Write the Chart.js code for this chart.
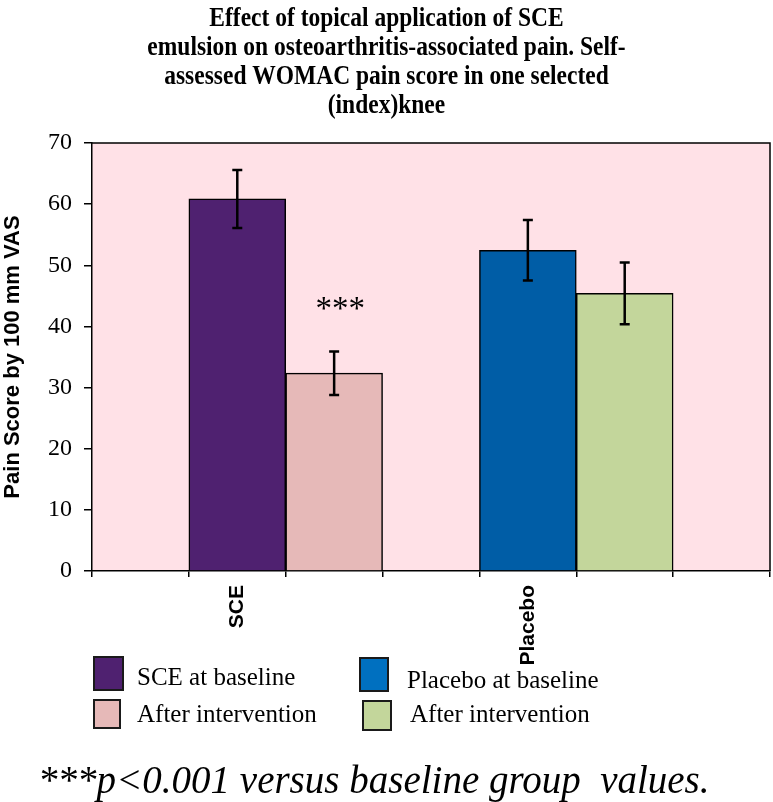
<!DOCTYPE html>
<html>
<head>
<meta charset="utf-8">
<title>WOMAC pain score</title>
<script src="https://cdn.jsdelivr.net/npm/chart.js@4.4.1/dist/chart.umd.min.js"></script>
<style>
    html, body { margin: 0; padding: 0; background: #fff; }
    #wrap { position: relative; width: 773px; height: 802px; overflow: hidden; }
    #painChart { position: absolute; left: 0; top: 0; }
    .legend-item { position: absolute; font-family: "Liberation Serif", "Times New Roman", serif; font-size: 25px; line-height: 25px; color: #000; white-space: nowrap; }
    .legend-box { position: absolute; box-sizing: border-box; border: 2px solid #1a1a1a; }
    #footnote { position: absolute; left: 38px; top: 760px; font-family: "Liberation Serif", "Times New Roman", serif; font-style: italic; font-size: 39px; line-height: 39px; white-space: pre; color: #000; }
</style>
</head>
<body>
<div id="wrap">
    <canvas id="painChart" width="773" height="802"></canvas>
    <div id="legend"></div>
    <div id="footnote"></div>
</div>
<script>
// Chart data
const slotLabels = ['', 'SCE', '', '', 'Placebo', '', ''];
const seriesNames = ['SCE at baseline', 'After intervention', 'Placebo at baseline', 'After intervention'];
const barSlots = [1, 2, 4, 5];
const meanScores = [60.85, 32.35, 52.45, 45.4];
const errorValues = [4.75, 3.55, 4.95, 5.05];
const barColors = ['#4F2170', '#E6B9B8', '#005DA6', '#C3D69B'];
const legendColors = ['#4F2170', '#E6B9B8', '#0070C0', '#C3D69B'];
const yTicks = [0, 10, 20, 30, 40, 50, 60, 70];
const titleLines = [
    'Effect of topical application of SCE',
    'emulsion on osteoarthritis-associated pain. Self-',
    'assessed WOMAC pain score in one selected',
    '(index)knee'
];
const sigMark = '***';
const sigSlot = 2;
const sigLevel = 43.7;
const footnoteText = '***p<0.001 versus baseline group  values.';

// Spread the four bars over the seven slots
const slotValues = slotLabels.map(() => null);
const slotColors = slotLabels.map(() => 'rgba(0,0,0,0)');
barSlots.forEach((slot, i) => {
    slotValues[slot] = meanScores[i];
    slotColors[slot] = barColors[i];
});

const plotBackground = {
    id: 'plotBackground',
    beforeDraw(chart) {
        const { ctx, chartArea } = chart;
        ctx.save();
        ctx.fillStyle = '#FFE1E7';
        ctx.fillRect(chartArea.left, chartArea.top, chartArea.right - chartArea.left, chartArea.bottom - chartArea.top);
        ctx.restore();
    }
};

const errorBars = {
    id: 'errorBars',
    afterDatasetsDraw(chart) {
        const { ctx, chartArea } = chart;
        const yScale = chart.scales.y;
        const xScale = chart.scales.x;
        ctx.save();

        // top and right frame of the plot
        ctx.strokeStyle = '#000';
        ctx.lineWidth = 1.5;
        ctx.beginPath();
        ctx.moveTo(chartArea.left, chartArea.top);
        ctx.lineTo(chartArea.right, chartArea.top);
        ctx.lineTo(chartArea.right, chartArea.bottom);
        ctx.stroke();

        ctx.lineWidth = 2.5;
        barSlots.forEach((slot, i) => {
            const x = xScale.getPixelForValue(slot);
            const yHi = yScale.getPixelForValue(meanScores[i] + errorValues[i]);
            const yLo = yScale.getPixelForValue(meanScores[i] - errorValues[i]);
            ctx.beginPath();
            ctx.moveTo(x, yHi);
            ctx.lineTo(x, yLo);
            ctx.moveTo(x - 5, yHi);
            ctx.lineTo(x + 5, yHi);
            ctx.moveTo(x - 5, yLo);
            ctx.lineTo(x + 5, yLo);
            ctx.stroke();
        });

        // significance mark
        ctx.fillStyle = '#000';
        ctx.font = '33px "Liberation Serif", "Times New Roman", serif';
        ctx.textAlign = 'center';
        ctx.textBaseline = 'alphabetic';
        ctx.fillText(sigMark, xScale.getPixelForValue(sigSlot) + 6, yScale.getPixelForValue(sigLevel) + 15);
        ctx.restore();
    }
};

const condensedTitle = {
    id: 'condensedTitle',
    afterDraw(chart) {
        const ctx = chart.ctx;
        ctx.save();
        ctx.fillStyle = '#000';
        ctx.font = 'bold 27px "Liberation Serif", "Times New Roman", serif';
        ctx.textAlign = 'center';
        ctx.textBaseline = 'alphabetic';
        titleLines.forEach((line, i) => {
            ctx.save();
            ctx.translate(chart.width / 2, 26 + i * 29);
            ctx.scale(0.87, 1);
            ctx.fillText(line, 0, 0);
            ctx.restore();
        });
        ctx.restore();
    }
};

new Chart(document.getElementById('painChart'), {
    type: 'bar',
    data: {
        labels: slotLabels,
        datasets: [{
            data: slotValues,
            backgroundColor: slotColors,
            borderColor: '#000',
            borderWidth: 1.5,
            barPercentage: 1,
            categoryPercentage: 1
        }]
    },
    options: {
        responsive: false,
        animation: false,
        layout: {
            padding: { top: 143, right: 3, bottom: 131, left: 0 }
        },
        plugins: {
            legend: { display: false },
            title: { display: false },
            tooltip: { enabled: false }
        },
        scales: {
            x: {
                afterFit(scale) { scale.height = 100; },
                grid: { drawOnChartArea: false, color: '#000', lineWidth: 1.5, tickLength: 6 },
                border: { color: '#000', width: 1.5 },
                ticks: {
                    autoSkip: false,
                    maxRotation: 90,
                    minRotation: 90,
                    padding: 8,
                    color: '#000',
                    font: { family: '"Liberation Sans", Arial, sans-serif', size: 21, weight: 'bold' }
                }
            },
            y: {
                min: 0,
                max: 70,
                afterFit(scale) { scale.width = 92; },
                afterBuildTicks(scale) { scale.ticks = yTicks.map(v => ({ value: v })); },
                grid: { drawOnChartArea: false, color: '#000', lineWidth: 1.5, tickLength: 8 },
                border: { color: '#000', width: 1.5 },
                ticks: {
                    padding: 12,
                    color: '#000',
                    font: { family: '"Liberation Serif", "Times New Roman", serif', size: 24 }
                },
                title: {
                    display: true,
                    text: 'Pain Score by 100 mm VAS',
                    color: '#000',
                    padding: { top: 0, bottom: 0 },
                    font: { family: '"Liberation Sans", Arial, sans-serif', size: 22, weight: 'bold' }
                }
            }
        }
    },
    plugins: [plotBackground, errorBars, condensedTitle]
});

// Legend laid out as two columns under the axis
const legendLayout = [
    { box: [93, 656, 31, 35], text: [137, 664] },
    { box: [93, 699, 28, 30], text: [137, 701] },
    { box: [359, 657, 30, 35], text: [407, 667] },
    { box: [362, 700, 30, 31], text: [410, 701] }
];
const legendEl = document.getElementById('legend');
seriesNames.forEach((name, i) => {
    const pos = legendLayout[i];
    const box = document.createElement('div');
    box.className = 'legend-box';
    box.style.left = pos.box[0] + 'px';
    box.style.top = pos.box[1] + 'px';
    box.style.width = pos.box[2] + 'px';
    box.style.height = pos.box[3] + 'px';
    box.style.background = legendColors[i];
    legendEl.appendChild(box);

    const label = document.createElement('div');
    label.className = 'legend-item';
    label.style.left = pos.text[0] + 'px';
    label.style.top = pos.text[1] + 'px';
    label.textContent = name;
    legendEl.appendChild(label);
});

document.getElementById('footnote').textContent = footnoteText;
</script>
</body>
</html>
